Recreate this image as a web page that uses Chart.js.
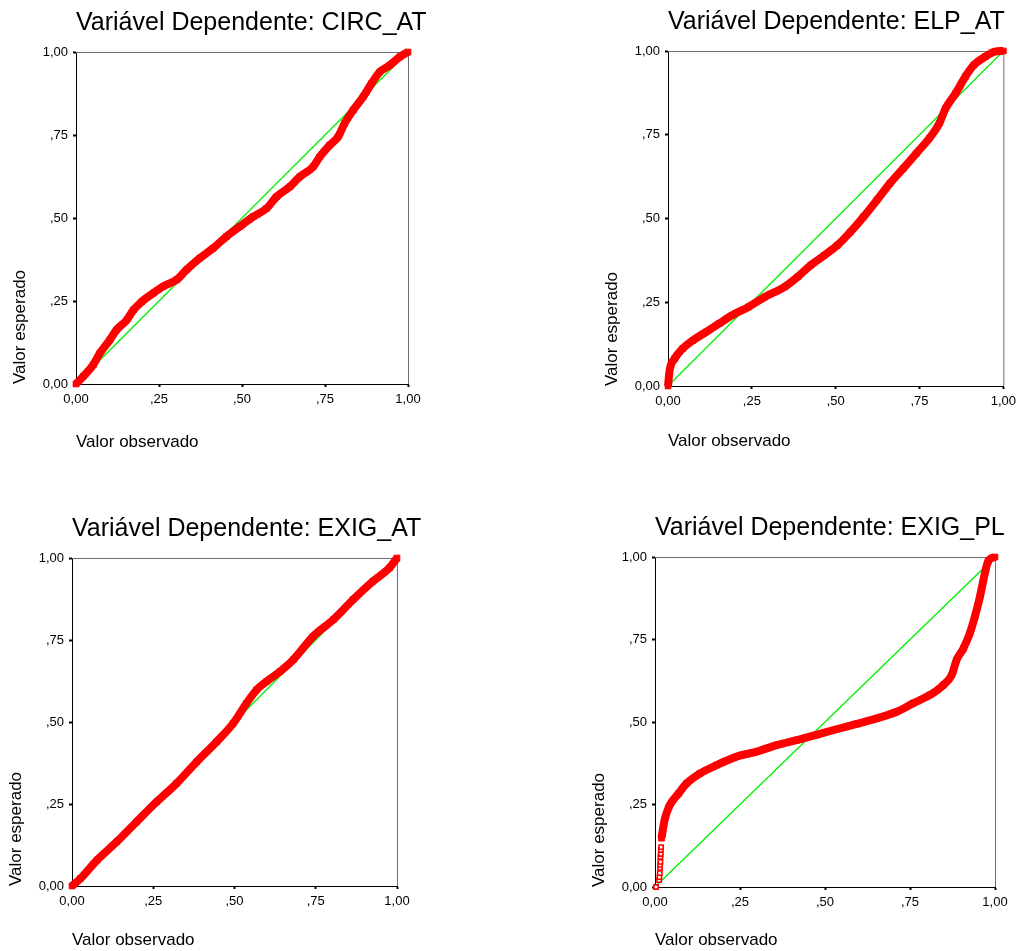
<!DOCTYPE html>
<html>
<head>
<meta charset="utf-8">
<title>Gráficos P-P</title>
<script src="https://cdn.jsdelivr.net/npm/chart.js@4.4.1/dist/chart.umd.min.js"></script>
<style>
  html, body { margin: 0; padding: 0; background: #fff; overflow: hidden; }
  body { width: 1021px; height: 951px; position: relative; }
  canvas { position: absolute; }
</style>
</head>
<body>
<canvas id="pp1"></canvas>
<canvas id="pp2"></canvas>
<canvas id="pp3"></canvas>
<canvas id="pp4"></canvas>
<script>
/* DATA */

var dependents = ["CIRC_AT", "ELP_AT", "EXIG_AT", "EXIG_PL"];
var tickValues = [0, 0.25, 0.5, 0.75, 1];
var tickLabels = ["0,00", ",25", ",50", ",75", "1,00"];

// reference line
var diagObs = [0, 1];
var diagExp = [0, 1];

// CIRC_AT
var circObs = [0, 0.022, 0.052, 0.072, 0.102, 0.122, 0.153, 0.173, 0.198, 0.233, 0.263, 0.303, 0.333, 0.373, 0.413, 0.453, 0.493, 0.534, 0.574, 0.604, 0.644, 0.674, 0.714, 0.734, 0.764, 0.789, 0.809, 0.835, 0.865, 0.890, 0.915, 0.945, 0.975, 1];
var circExp = [0, 0.023, 0.058, 0.093, 0.133, 0.163, 0.193, 0.223, 0.248, 0.274, 0.294, 0.314, 0.344, 0.379, 0.409, 0.444, 0.474, 0.504, 0.529, 0.564, 0.594, 0.624, 0.654, 0.684, 0.719, 0.744, 0.785, 0.825, 0.865, 0.905, 0.940, 0.960, 0.985, 1];

// ELP_AT
var elpObs = [0, 0.005, 0.020, 0.044, 0.074, 0.113, 0.152, 0.191, 0.240, 0.289, 0.348, 0.387, 0.426, 0.466, 0.505, 0.544, 0.583, 0.623, 0.662, 0.701, 0.740, 0.779, 0.809, 0.828, 0.858, 0.887, 0.912, 0.946, 0.975, 1];
var elpExp = [0, 0.047, 0.082, 0.112, 0.136, 0.161, 0.186, 0.211, 0.236, 0.266, 0.296, 0.326, 0.361, 0.390, 0.420, 0.460, 0.505, 0.555, 0.605, 0.649, 0.694, 0.739, 0.784, 0.829, 0.874, 0.924, 0.958, 0.983, 0.998, 1];

// EXIG_AT
var exatObs = [0, 0.026, 0.077, 0.138, 0.199, 0.261, 0.322, 0.384, 0.445, 0.496, 0.537, 0.568, 0.599, 0.640, 0.681, 0.742, 0.804, 0.865, 0.926, 0.977, 1];
var exatExp = [0, 0.023, 0.079, 0.135, 0.196, 0.257, 0.313, 0.379, 0.440, 0.496, 0.557, 0.598, 0.624, 0.654, 0.690, 0.761, 0.812, 0.873, 0.929, 0.970, 1];

// EXIG_PL (loose points near the origin, then the dense band)
var explLowObs = [0.003, 0.012, 0.013, 0.014, 0.015, 0.015, 0.016, 0.016, 0.017, 0.017, 0.018, 0.018];
var explLowExp = [0, 0.021, 0.030, 0.042, 0.058, 0.067, 0.076, 0.091, 0.100, 0.112, 0.121, 0.148];
var explObs = [0.019, 0.028, 0.041, 0.069, 0.093, 0.132, 0.181, 0.240, 0.299, 0.358, 0.417, 0.475, 0.534, 0.593, 0.652, 0.711, 0.760, 0.809, 0.848, 0.873, 0.887, 0.907, 0.926, 0.941, 0.956, 0.966, 0.980, 1];
var explExp = [0.148, 0.202, 0.243, 0.283, 0.314, 0.344, 0.369, 0.395, 0.410, 0.430, 0.445, 0.461, 0.478, 0.494, 0.511, 0.531, 0.557, 0.582, 0.612, 0.643, 0.688, 0.723, 0.769, 0.820, 0.881, 0.931, 0.987, 1];


/* LAYOUT */

var fontFamily = '"Liberation Sans", Arial, sans-serif';
var axisBox = 72;

// plot box of each panel in page pixels, and the canvas that holds it
var panels = [
  { id: "pp1", left: 0,   top: 0,   right: 440,  plotL: 76,  plotT: 52,  plotR: 408, plotB: 384, xGap: 58 },
  { id: "pp2", left: 592, top: 0,   right: 1021, plotL: 668, plotT: 51,  plotR: 1008, plotB: 386, xGap: 55.5 },
  { id: "pp3", left: -4,  top: 480, right: 440,  plotL: 72,  plotT: 558, plotR: 397, plotB: 886, xGap: 54 },
  { id: "pp4", left: 579, top: 480, right: 1021, plotL: 655, plotT: 557, plotR: 995, plotB: 887, xGap: 53 }
];

function toPoints(xs, ys) {
  var pts = [];
  for (var i = 0; i < xs.length; i++) {
    pts.push({ x: xs[i], y: ys[i] });
  }
  return pts;
}

// gray top/right frame + panel title
var framePlugin = {
  id: "framePlugin",
  beforeDatasetsDraw: function (chart) {
    var a = chart.chartArea;
    var ctx = chart.ctx;
    ctx.save();
    ctx.strokeStyle = "#6e6e6e";
    ctx.lineWidth = 1;
    ctx.beginPath();
    ctx.moveTo(a.left, a.top + 0.5);
    ctx.lineTo(a.right + 0.5, a.top + 0.5);
    ctx.lineTo(a.right + 0.5, a.bottom);
    ctx.stroke();
    ctx.restore();
  },
  afterDraw: function (chart, args, opts) {
    var a = chart.chartArea;
    var ctx = chart.ctx;
    ctx.save();
    ctx.font = "25px " + fontFamily;
    ctx.fillStyle = "#000";
    ctx.textAlign = "left";
    ctx.textBaseline = "alphabetic";
    ctx.fillText(opts.text, a.left, a.top - 22);
    ctx.restore();
  }
};

function axisOptions(horizontal, p) {
  return {
    type: "linear",
    min: 0,
    max: 1,
    afterBuildTicks: function (scale) {
      scale.ticks = tickValues.map(function (v) { return { value: v }; });
    },
    afterFit: function (scale) {
      if (horizontal) {
        scale.height = axisBox;
      } else {
        scale.width = p.plotL - p.left;
      }
    },
    ticks: {
      autoSkip: false,
      maxRotation: 0,
      padding: 5,
      color: "#000",
      font: { family: fontFamily, size: 13 },
      callback: function (value) {
        var i = tickValues.indexOf(value);
        return i >= 0 ? tickLabels[i] : "";
      }
    },
    grid: {
      drawOnChartArea: false,
      drawTicks: true,
      tickLength: 3,
      tickWidth: 2,
      tickColor: "#000"
    },
    border: { color: "#000", width: 1 },
    title: {
      display: true,
      text: horizontal ? "Valor observado" : "Valor esperado",
      align: "start",
      color: "#000",
      font: { family: fontFamily, size: 17 },
      padding: horizontal ? { top: 0, bottom: axisBox - p.xGap - 10.2 } : { top: 10, bottom: 0 }
    }
  };
}

function drawPanel(p, title, sets) {
  var cv = document.getElementById(p.id);
  cv.width = p.right - p.left;
  cv.height = p.plotB + axisBox - p.top;
  cv.style.left = p.left + "px";
  cv.style.top = p.top + "px";

  new Chart(cv, {
    type: "scatter",
    data: { datasets: sets },
    options: {
      responsive: false,
      animation: false,
      layout: {
        padding: { left: 0, top: p.plotT - p.top, right: p.right - p.plotR, bottom: 0 }
      },
      plugins: {
        legend: { display: false },
        tooltip: { enabled: false },
        framePlugin: { text: title }
      },
      scales: {
        x: axisOptions(true, p),
        y: axisOptions(false, p)
      }
    },
    plugins: [framePlugin]
  });
}

function bandSet(xs, ys) {
  return {
    data: toPoints(xs, ys),
    showLine: true,
    borderColor: "#ff0000",
    borderWidth: 8,
    borderJoinStyle: "round",
    cubicInterpolationMode: "monotone",
    pointStyle: "rect",
    pointRadius: 4,
    pointBorderWidth: 1,
    pointBorderColor: "#ff0000",
    pointBackgroundColor: "#ff0000",
    clip: 8,
    order: 0
  };
}

function looseSet(xs, ys) {
  return {
    data: toPoints(xs, ys),
    showLine: false,
    pointStyle: "rect",
    pointRadius: 3,
    pointBorderWidth: 1.6,
    pointBorderColor: "#ff0000",
    pointBackgroundColor: "#ffffff",
    clip: 8,
    order: 1
  };
}

function diagSet() {
  return {
    data: toPoints(diagObs, diagExp),
    showLine: true,
    borderColor: "#00f000",
    borderWidth: 1.3,
    pointRadius: 0,
    order: 3
  };
}

drawPanel(panels[0], "Variável Dependente: " + dependents[0], [bandSet(circObs, circExp), diagSet()]);
drawPanel(panels[1], "Variável Dependente: " + dependents[1], [bandSet(elpObs, elpExp), diagSet()]);
drawPanel(panels[2], "Variável Dependente: " + dependents[2], [bandSet(exatObs, exatExp), diagSet()]);
drawPanel(panels[3], "Variável Dependente: " + dependents[3], [bandSet(explObs, explExp), looseSet(explLowObs, explLowExp), diagSet()]);
</script>
</body>
</html>
